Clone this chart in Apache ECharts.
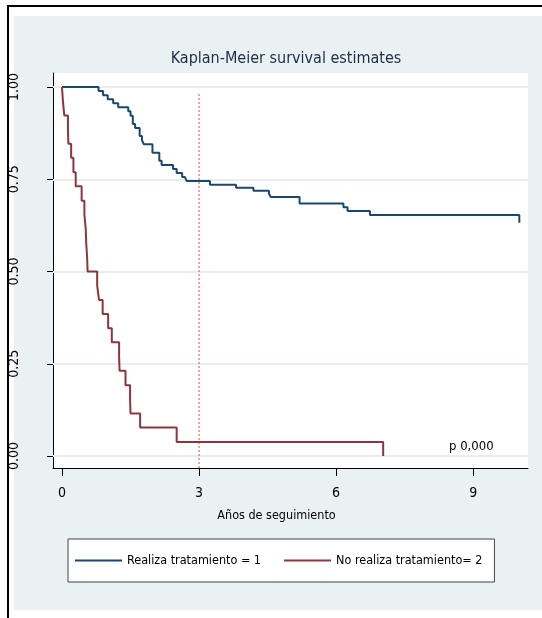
<!DOCTYPE html>
<html>
<head>
<meta charset="utf-8">
<script src="https://cdn.jsdelivr.net/npm/echarts@6/dist/echarts.min.js"></script>
<style>
  html, body { margin: 0; padding: 0; background: #ffffff; }
  #chart { width: 542px; height: 618px; }
</style>
</head>
<body>
<div id="chart"></div>
<script>
// Kaplan-Meier survival estimates, two treatment groups (time in years)
const groupNames = ['Realiza tratamiento = 1', 'No realiza tratamiento= 2'];

// Group 1: event times and survival after each event
const blueTimes = [0.80, 0.90, 1.00, 1.12, 1.23, 1.45, 1.50, 1.55, 1.60, 1.70, 1.75, 1.79, 1.98, 2.13, 2.18, 2.43, 2.51, 2.63, 2.69, 2.73, 3.24, 3.81, 4.19, 4.53, 4.57, 5.20, 6.16, 6.25, 6.74, 10.01];
const blueSurv  = [0.989, 0.978, 0.967, 0.956, 0.945, 0.934, 0.922, 0.900, 0.889, 0.867, 0.856, 0.845, 0.822, 0.800, 0.789, 0.778, 0.767, 0.756, 0.751, 0.745, 0.735, 0.727, 0.719, 0.711, 0.702, 0.684, 0.674, 0.664, 0.653, 0.632];

// Group 2: event times and survival after each event
const redTimes = [0.02, 0.05, 0.13, 0.14, 0.20, 0.25, 0.30, 0.43, 0.49, 0.52, 0.53, 0.55, 0.56, 0.77, 0.81, 0.89, 1.01, 1.09, 1.25, 1.26, 1.39, 1.49, 1.50, 1.71, 2.51, 7.03];
const redSurv  = [0.962, 0.923, 0.885, 0.846, 0.808, 0.769, 0.731, 0.692, 0.654, 0.615, 0.577, 0.538, 0.500, 0.462, 0.423, 0.385, 0.346, 0.308, 0.269, 0.231, 0.192, 0.154, 0.115, 0.077, 0.038, 0.000];

// Axis ticks and reference marks
const xTicks = [0, 3, 6, 9];
const yTicks = [0, 0.25, 0.5, 0.75, 1];
const refLineX = [3, 3];
const refLineY = [-0.0325, 0.985];
const pValueText = 'p 0,000';

const FONT = "'Liberation Sans Narrow', 'DejaVu Sans Condensed', 'Liberation Sans', sans-serif";

function curve(times, surv) {
  const pts = [[0, 1]];
  for (let i = 0; i < times.length; i++) pts.push([times[i], surv[i]]);
  return pts;
}

const chart = echarts.init(document.getElementById('chart'), null, { renderer: 'canvas' });

chart.setOption({
  animation: false,
  backgroundColor: '#ffffff',
  title: {
    text: 'Kaplan-Meier survival estimates',
    left: 281,
    top: 46,
    textAlign: 'center',
    textStyle: { fontFamily: FONT, fontSize: 16, fontWeight: 'normal', color: '#1c2d48' }
  },
  graphic: [
    // outer frame lines and panel background
    { type: 'rect', z: -10, shape: { x: 7, y: 5, width: 535, height: 2 }, style: { fill: '#000' } },
    { type: 'rect', z: -10, shape: { x: 7, y: 5, width: 2, height: 613 }, style: { fill: '#000' } },
    { type: 'rect', z: -10, shape: { x: 14, y: 16, width: 528, height: 594 }, style: { fill: '#eaf1f3' } },
    {
      type: 'text', z: 10, x: 449, y: 447,
      style: { text: pValueText, fontFamily: FONT, fontSize: 13, fill: '#000', verticalAlign: 'middle' }
    }
  ],
  legend: {
    data: groupNames,
    left: 68,
    top: 539,
    width: 440,
    padding: [15, 12, 15, 7],
    itemGap: 23,
    itemWidth: 47,
    itemHeight: 2,
    icon: 'rect',
    backgroundColor: '#ffffff',
    borderColor: '#444444',
    borderWidth: 1,
    borderRadius: 0,
    textStyle: { fontFamily: FONT, fontSize: 12.5, color: '#000' }
  },
  grid: {
    left: 53, top: 73, width: 475, height: 395,
    show: true, backgroundColor: '#ffffff', borderWidth: 0
  },
  xAxis: {
    type: 'value',
    min: -0.197, max: 10.2,
    name: 'Años de seguimiento',
    nameLocation: 'middle',
    nameGap: 41,
    nameTextStyle: { fontFamily: FONT, fontSize: 12.5, color: '#000', padding: [0, 28, 0, 0] },
    axisLine: { show: true, onZero: false, lineStyle: { color: '#000', width: 1 } },
    axisTick: { show: true, length: 8, customValues: xTicks, lineStyle: { color: '#000' } },
    axisLabel: { customValues: xTicks, margin: 18, fontFamily: FONT, fontSize: 14, color: '#000' },
    splitLine: { show: false }
  },
  yAxis: {
    type: 'value',
    min: -0.0325, max: 1.038,
    axisLine: { show: true, onZero: false, lineStyle: { color: '#000', width: 1 } },
    axisTick: { show: true, length: 6, customValues: yTicks, lineStyle: { color: '#000' } },
    axisLabel: {
      customValues: yTicks, rotate: 90, margin: 32,
      fontFamily: FONT, fontSize: 14, color: '#000',
      formatter: v => v.toFixed(2)
    },
    splitLine: { show: false }
  },
  series: [
    {
      // horizontal grid lines at the y ticks, kept beneath the curves
      name: 'grid', type: 'line', data: [], z: 1, silent: true,
      markLine: {
        z: 1, silent: true, symbol: 'none', label: { show: false },
        lineStyle: { color: '#e6eef1', width: 2, type: 'solid' },
        data: yTicks.map(v => ({ yAxis: v }))
      }
    },
    {
      // dotted reference line at 3 years
      name: 'ref', type: 'line', z: 2, silent: true, symbol: 'none',
      data: refLineX.map((x, i) => [x, refLineY[i]]),
      lineStyle: { color: '#f04848', width: 1, type: [2, 2] }
    },
    {
      name: groupNames[0], type: 'line', step: 'end', symbol: 'none', z: 3,
      data: curve(blueTimes, blueSurv),
      itemStyle: { color: '#1a476f' },
      lineStyle: { color: '#1a476f', width: 2 }
    },
    {
      name: groupNames[1], type: 'line', step: 'end', symbol: 'none', z: 4,
      data: curve(redTimes, redSurv),
      itemStyle: { color: '#90353b' },
      lineStyle: { color: '#90353b', width: 2 }
    }
  ]
});
</script>
</body>
</html>
